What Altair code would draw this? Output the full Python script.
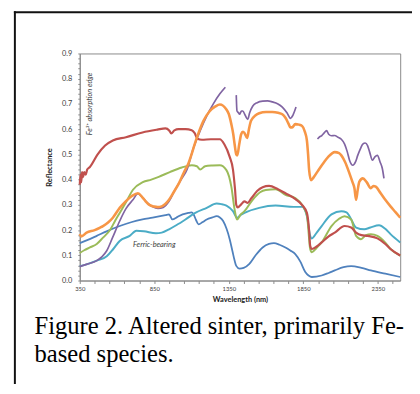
import altair as alt
import pandas as pd

# ---------------- data ----------------
RED_WL = [350, 355, 360, 365, 372, 380, 390, 400, 418, 470, 520, 572, 660, 771, 870, 925, 950, 964, 985, 1013,
          1060, 1101, 1120, 1140, 1170, 1230, 1290, 1320, 1356, 1378, 1392, 1400, 1410, 1430, 1455, 1477, 1500,
          1540, 1577, 1620, 1680, 1730, 1797, 1841, 1874, 1890, 1896, 1907, 1940, 1973, 2020, 2061, 2127, 2171,
          2204, 2240, 2281, 2347, 2400, 2435, 2500]
RED_R = [0.38, 0.42, 0.39, 0.43, 0.41, 0.43, 0.42, 0.44, 0.45, 0.50, 0.535, 0.555, 0.568, 0.587, 0.598, 0.603,
         0.595, 0.583, 0.595, 0.600, 0.600, 0.596, 0.585, 0.562, 0.558, 0.560, 0.560, 0.540, 0.490, 0.440, 0.360,
         0.300, 0.290, 0.300, 0.314, 0.308, 0.325, 0.355, 0.370, 0.375, 0.362, 0.346, 0.323, 0.300, 0.268, 0.190,
         0.138, 0.125, 0.135, 0.151, 0.175, 0.190, 0.216, 0.210, 0.190, 0.180, 0.177, 0.167, 0.145, 0.125, 0.099]

ORANGE_WL = [350, 360, 396, 450, 487, 506, 540, 572, 618, 660, 700, 740, 770, 792, 817, 850, 872, 900, 949, 980,
             1015, 1050, 1079, 1100, 1118, 1150, 1180, 1220, 1260, 1290, 1334, 1350, 1367, 1380, 1389, 1400, 1407,
             1420, 1433, 1445, 1455, 1473, 1485, 1499, 1530, 1554, 1600, 1642, 1680, 1709, 1730, 1752, 1763, 1775,
             1796, 1820, 1841, 1860, 1874, 1882, 1889, 1902, 1920, 1951, 1990, 2017, 2061, 2090, 2105, 2130, 2160,
             2180, 2193, 2204, 2215, 2226, 2249, 2275, 2303, 2320, 2336, 2369, 2400, 2435, 2470, 2500]
ORANGE_R = [0.184, 0.175, 0.190, 0.200, 0.210, 0.216, 0.230, 0.249, 0.288, 0.315, 0.335, 0.346, 0.330, 0.314,
            0.300, 0.293, 0.291, 0.294, 0.320, 0.350, 0.385, 0.430, 0.464, 0.500, 0.535, 0.590, 0.633, 0.670,
            0.690, 0.698, 0.678, 0.660, 0.620, 0.580, 0.540, 0.500, 0.496, 0.540, 0.580, 0.590, 0.585, 0.565,
            0.600, 0.633, 0.655, 0.663, 0.668, 0.668, 0.665, 0.659, 0.645, 0.620, 0.607, 0.607, 0.620, 0.618,
            0.613, 0.590, 0.555, 0.500, 0.4375, 0.398, 0.410, 0.4375, 0.470, 0.490, 0.509, 0.505, 0.496, 0.470,
            0.424, 0.390, 0.366, 0.320, 0.360, 0.392, 0.405, 0.390, 0.366, 0.375, 0.372, 0.346, 0.320, 0.294,
            0.270, 0.249]

PURPLE_WL = [[350, 400, 464, 500, 531, 570, 618, 660, 707, 740, 770, 800, 840, 875, 910, 950, 990, 1030, 1070,
              1110, 1158, 1200, 1246, 1290, 1327],
             [1400, 1402, 1405, 1415, 1422, 1435, 1444, 1460, 1477, 1490, 1510, 1540, 1577, 1610, 1642, 1680,
              1709, 1740, 1764, 1780, 1801],
             [1945, 1960, 1973, 1990, 2006, 2020, 2039, 2060, 2083, 2105, 2127, 2145, 2160, 2182, 2200, 2215,
              2235, 2249, 2265, 2281, 2295, 2314, 2330, 2347, 2365, 2380, 2391]]
PURPLE_R = [[0.055, 0.065, 0.079, 0.095, 0.118, 0.170, 0.236, 0.285, 0.320, 0.344, 0.330, 0.310, 0.292, 0.286,
             0.290, 0.315, 0.360, 0.400, 0.440, 0.520, 0.594, 0.650, 0.700, 0.740, 0.766],
            [0.735, 0.700, 0.672, 0.665, 0.659, 0.672, 0.672, 0.655, 0.639, 0.665, 0.691, 0.705, 0.711, 0.712,
             0.708, 0.700, 0.6875, 0.665, 0.643, 0.655, 0.6875],
            [0.561, 0.570, 0.574, 0.585, 0.594, 0.580, 0.574, 0.575, 0.568, 0.560, 0.541, 0.510, 0.477, 0.457,
             0.470, 0.496, 0.525, 0.541, 0.545, 0.535, 0.509, 0.477, 0.490, 0.496, 0.470, 0.444, 0.405]]

GREEN_WL = [350, 380, 418, 464, 506, 553, 590, 618, 660, 707, 773, 830, 880, 958, 1035, 1101, 1136, 1158, 1191,
            1240, 1290, 1334, 1367, 1389, 1405, 1430, 1455, 1510, 1560, 1598, 1664, 1730, 1796, 1841, 1874, 1896,
            1907, 1940, 1973, 2039, 2090, 2127, 2171, 2204, 2237, 2270, 2303, 2347, 2400, 2435, 2500]
GREEN_R = [0.109, 0.120, 0.131, 0.145, 0.170, 0.200, 0.240, 0.268, 0.310, 0.360, 0.390, 0.400, 0.411, 0.431,
           0.448, 0.457, 0.453, 0.440, 0.453, 0.456, 0.457, 0.4375, 0.372, 0.281, 0.242, 0.262, 0.275, 0.320,
           0.350, 0.359, 0.362, 0.340, 0.327, 0.300, 0.260, 0.125, 0.112, 0.130, 0.151, 0.216, 0.245, 0.255,
           0.242, 0.177, 0.164, 0.180, 0.184, 0.177, 0.150, 0.125, 0.099]

TEAL_WL = [350, 400, 464, 531, 575, 618, 685, 730, 780, 861, 900, 949, 1000, 1059, 1125, 1202, 1268, 1300, 1334,
           1378, 1405, 1430, 1455, 1554, 1664, 1786, 1841, 1874, 1896, 1907, 1940, 1973, 2039, 2105, 2140, 2160,
           2204, 2259, 2300, 2358, 2400, 2435, 2500]
TEAL_R = [0.057, 0.065, 0.079, 0.096, 0.125, 0.157, 0.177, 0.197, 0.195, 0.1875, 0.190, 0.203, 0.220, 0.242,
          0.268, 0.288, 0.305, 0.303, 0.297, 0.275, 0.249, 0.260, 0.268, 0.288, 0.297, 0.292, 0.292, 0.255, 0.177,
          0.167, 0.190, 0.216, 0.262, 0.275, 0.270, 0.255, 0.210, 0.203, 0.210, 0.219, 0.205, 0.184, 0.151]

BLUE_WL = [350, 400, 464, 530, 618, 700, 771, 839, 925, 949, 971, 1000, 1013, 1079, 1100, 1114, 1130, 1147, 1175,
           1202, 1240, 1268, 1290, 1312, 1335, 1356, 1375, 1389, 1400, 1422, 1450, 1488, 1530, 1577, 1620, 1653,
           1690, 1730, 1765, 1796, 1830, 1863, 1885, 1907, 1973, 2020, 2061, 2120, 2171, 2240, 2303, 2400, 2500]
BLUE_R = [0.148, 0.160, 0.177, 0.195, 0.216, 0.232, 0.242, 0.249, 0.259, 0.262, 0.242, 0.250, 0.255, 0.268,
          0.270, 0.262, 0.240, 0.223, 0.232, 0.242, 0.250, 0.255, 0.250, 0.236, 0.205, 0.164, 0.115, 0.079,
          0.058, 0.047, 0.050, 0.066, 0.100, 0.131, 0.145, 0.148, 0.142, 0.131, 0.118, 0.105, 0.075, 0.034,
          0.020, 0.014, 0.020, 0.030, 0.040, 0.053, 0.057, 0.050, 0.040, 0.027, 0.014]

X_TICK_LABELS = [350, 850, 1350, 1850, 2350]
X_MINOR = list(range(350, 2500, 100))
Y_TICK_LABELS = [0.0, 0.1, 0.2, 0.3, 0.4, 0.5, 0.6, 0.7, 0.8, 0.9]
Y_MINOR = [round(k * 0.02, 2) for k in range(46)]

CAPTION = "Figure 2. Altered sinter, primarily Fe-\nbased species."
ANNOTATIONS = {"Fe\u00b3\u207a absorption edge": (421, 0.70, 270),
               "Ferric-bearing": (850, 0.14, 0)}

# series: name, wl, R, colour, width   (drawing order = list order)
SERIES = [
    ("blue", [BLUE_WL], [BLUE_R], "#4F81BD", 1.8),
    ("teal", [TEAL_WL], [TEAL_R], "#4BACC6", 2.0),
    ("green", [GREEN_WL], [GREEN_R], "#9BBB59", 2.0),
    ("purple", PURPLE_WL, PURPLE_R, "#8064A2", 1.7),
    ("red", [RED_WL], [RED_R], "#C0504D", 2.2),
    ("orange", [ORANGE_WL], [ORANGE_R], "#F79646", 2.6),
]

# ---------------- chart ----------------
x_scale = alt.Scale(domain=[350, 2500], nice=False, zero=False)
y_scale = alt.Scale(domain=[0, 0.9], nice=False)

xlab = "indexof(" + str(X_TICK_LABELS) + ", datum.value) >= 0 ? format(datum.value, 'd') : ''"
ylab = "indexof(" + str(Y_TICK_LABELS) + ", datum.value) >= 0 ? format(datum.value, '.1f') : ''"

x_axis = alt.Axis(values=X_MINOR, labelExpr=xlab, title="Wavelength (nm)", grid=False,
                  tickSize=3, labelFontSize=6, labelPadding=2, labelFont="Lato", labelColor="#404040",
                  titleFont="Lato", titleFontSize=7.5, titleFontWeight="bold", titleColor="#222222",
                  titlePadding=4, domainColor="#8a8a8a", tickColor="#8a8a8a", labelFlush=False,
                  labelOverlap=False)
y_axis = alt.Axis(values=Y_MINOR, labelExpr=ylab, title="Reflectance", grid=False,
                  tickSize=2, labelFontSize=7.5, labelPadding=6, labelFont="Lato", labelColor="#404040",
                  titleFont="Lato", titleFontSize=7.5, titleFontWeight="bold", titleColor="#222222",
                  titlePadding=8, domainColor="#8a8a8a", tickColor="#8a8a8a", labelOverlap=False)

X_ENC = lambda: alt.X("wl:Q", scale=x_scale, axis=x_axis)
Y_ENC = lambda: alt.Y("R:Q", scale=y_scale, axis=y_axis)

layers = []
for name, wls, rs, col, w in SERIES:
    rows = []
    for si, (wl, r) in enumerate(zip(wls, rs)):
        for a, b in zip(wl, r):
            rows.append({"wl": a, "R": b, "seg": f"{name}{si}"})
    d = pd.DataFrame(rows)
    layers.append(alt.Chart(d).mark_line(color=col, strokeWidth=w, interpolate="monotone").encode(
        x=X_ENC(), y=Y_ENC(), detail="seg:N", order="wl:Q"))

ann_rows = [{"t": k, "wl": v[0], "R": v[1], "ang": v[2]} for k, v in ANNOTATIONS.items()]
ann_df = pd.DataFrame(ann_rows)
fe = alt.Chart(ann_df[ann_df.ang == 270]).mark_text(
    angle=270, font="Lato", fontStyle="italic", fontSize=7.5, color="#404040", align="center", baseline="middle"
).encode(x=X_ENC(), y=Y_ENC(), text="t:N")
fb = alt.Chart(ann_df[ann_df.ang == 0]).mark_text(
    font="Lato", fontStyle="italic", fontSize=7.5, color="#404040", align="center", baseline="middle"
).encode(x=X_ENC(), y=Y_ENC(), text="t:N")

one = pd.DataFrame({"a": [0]})
caption = alt.Chart(one).mark_text(
    font="Liberation Serif", fontSize=25, align="left", baseline="alphabetic", lineBreak="\n",
    lineHeight=28.5, color="#000000"
).encode(x=alt.value(-46), y=alt.value(285.5), text=alt.value(CAPTION))

left_border = alt.Chart(one).mark_rule(color="#111111", strokeWidth=2).encode(
    x=alt.value(-66), y=alt.value(-43), y2=alt.value(340))
top_border = alt.Chart(one).mark_rule(color="#111111", strokeWidth=2).encode(
    x=alt.value(-67), x2=alt.value(345), y=alt.value(-42))

chart = alt.layer(*layers, fe, fb, caption, left_border, top_border).properties(
    width=326, height=231,
    autosize=alt.AutoSizeParams(type="none"),
    padding={"left": 73, "top": 43, "right": 12, "bottom": 102},
    background="white",
).configure_view(stroke="#8a8a8a", strokeWidth=1)

chart.save("out.html", embed_options={"renderer": "svg", "actions": False})
